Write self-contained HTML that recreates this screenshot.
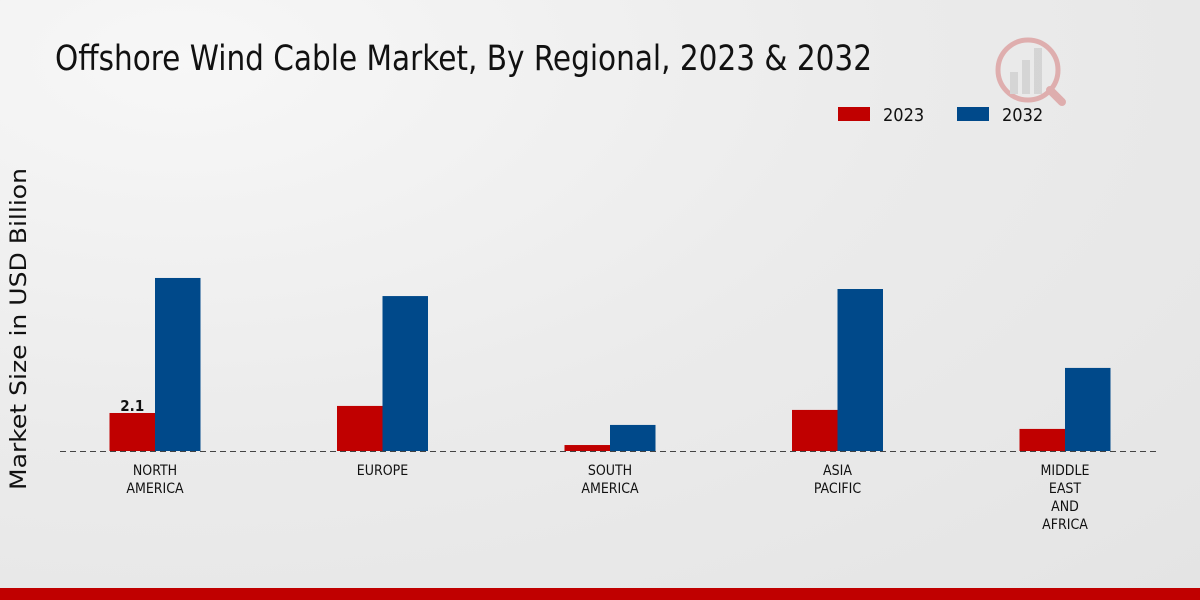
<!DOCTYPE html>
<html><head><meta charset="utf-8"><style>
body{margin:0;width:1200px;height:600px;overflow:hidden;font-family:"Liberation Sans",sans-serif;}
#bg{position:absolute;left:0;top:0;width:1200px;height:600px;background:radial-gradient(ellipse at 15% 10%,#f7f7f7 0%,#ebebeb 50%,#e4e4e4 100%);}
</style></head><body>
<div id="bg"></div>
<svg width="1200" height="600" style="position:absolute;left:0;top:0" id="chart">
<text x="55" y="70" font-size="35" fill="#111" textLength="817" lengthAdjust="spacingAndGlyphs" font-family="DejaVu Sans Condensed, Liberation Sans, sans-serif">Offshore Wind Cable Market, By Regional, 2023 &amp; 2032</text>
<text transform="translate(26,329) rotate(-90)" text-anchor="middle" font-size="22" fill="#111" font-family="DejaVu Sans, sans-serif" textLength="322" lengthAdjust="spacingAndGlyphs">Market Size in USD Billion</text>
<g font-family="DejaVu Sans Condensed, sans-serif">
<rect x="838" y="107" width="32" height="14" fill="#c00000"/>
<text x="883" y="121" font-size="18" fill="#111">2023</text>
<rect x="957" y="107" width="32" height="14" fill="#00498a"/>
<text x="1002" y="121" font-size="18" fill="#111">2032</text>
</g>
<g id="marks" font-family="DejaVu Sans Condensed, sans-serif"></g>
<line x1="60" x2="1160" y1="451.5" y2="451.5" stroke="#444" stroke-dasharray="6,4"/>
<rect x="0" y="588" width="1200" height="12" fill="#c00000"/>
<g opacity="0.25">
<circle cx="1028" cy="70" r="30" fill="none" stroke="#c00000" stroke-width="5"/>
<rect x="1010" y="72" width="8" height="22" fill="#999"/><rect x="1022" y="60" width="8" height="34" fill="#999"/><rect x="1034" y="48" width="8" height="46" fill="#999"/>
<line x1="1050" y1="90" x2="1062" y2="102" stroke="#c00000" stroke-width="8" stroke-linecap="round"/>
</g>
</svg>
<script>
const categories=[["NORTH","AMERICA"],["EUROPE"],["SOUTH","AMERICA"],["ASIA","PACIFIC"],["MIDDLE","EAST","AND","AFRICA"]];
const values2023=[2.1,2.49,0.33,2.27,1.22];
const values2032=[9.56,8.56,1.44,8.95,4.59];
const valueLabels=["2.1",null,null,null,null];
const NS="http://www.w3.org/2000/svg";
const g=document.getElementById('marks');
const base=451, scale=18.1;
const y=v=>base-v*scale;
const xc=i=>155+i*227.5;
const bw=45.5;
function mk(t,a){const e=document.createElementNS(NS,t);for(const k in a)e.setAttribute(k,a[k]);g.appendChild(e);return e;}
categories.forEach((c,i)=>{
  const r=mk('rect',{x:xc(i)-bw,y:y(values2023[i]),width:bw,height:values2023[i]*scale,fill:'#c00000'});
  
  
  const b=mk('rect',{x:xc(i),y:y(values2032[i]),width:bw,height:values2032[i]*scale,fill:'#00498a'});
  
  
  if(valueLabels[i]){const t=mk('text',{x:xc(i)-bw/2,y:y(values2023[i])-2,'text-anchor':'middle','font-size':'15','font-weight':'bold',fill:'#111'});t.textContent=valueLabels[i];
  
  }
  c.forEach((line,j)=>{const t=mk('text',{x:xc(i),y:475+j*18,'text-anchor':'middle','font-size':'14',fill:'#111'});t.textContent=line;
  
  });
});
</script>
</body></html>
